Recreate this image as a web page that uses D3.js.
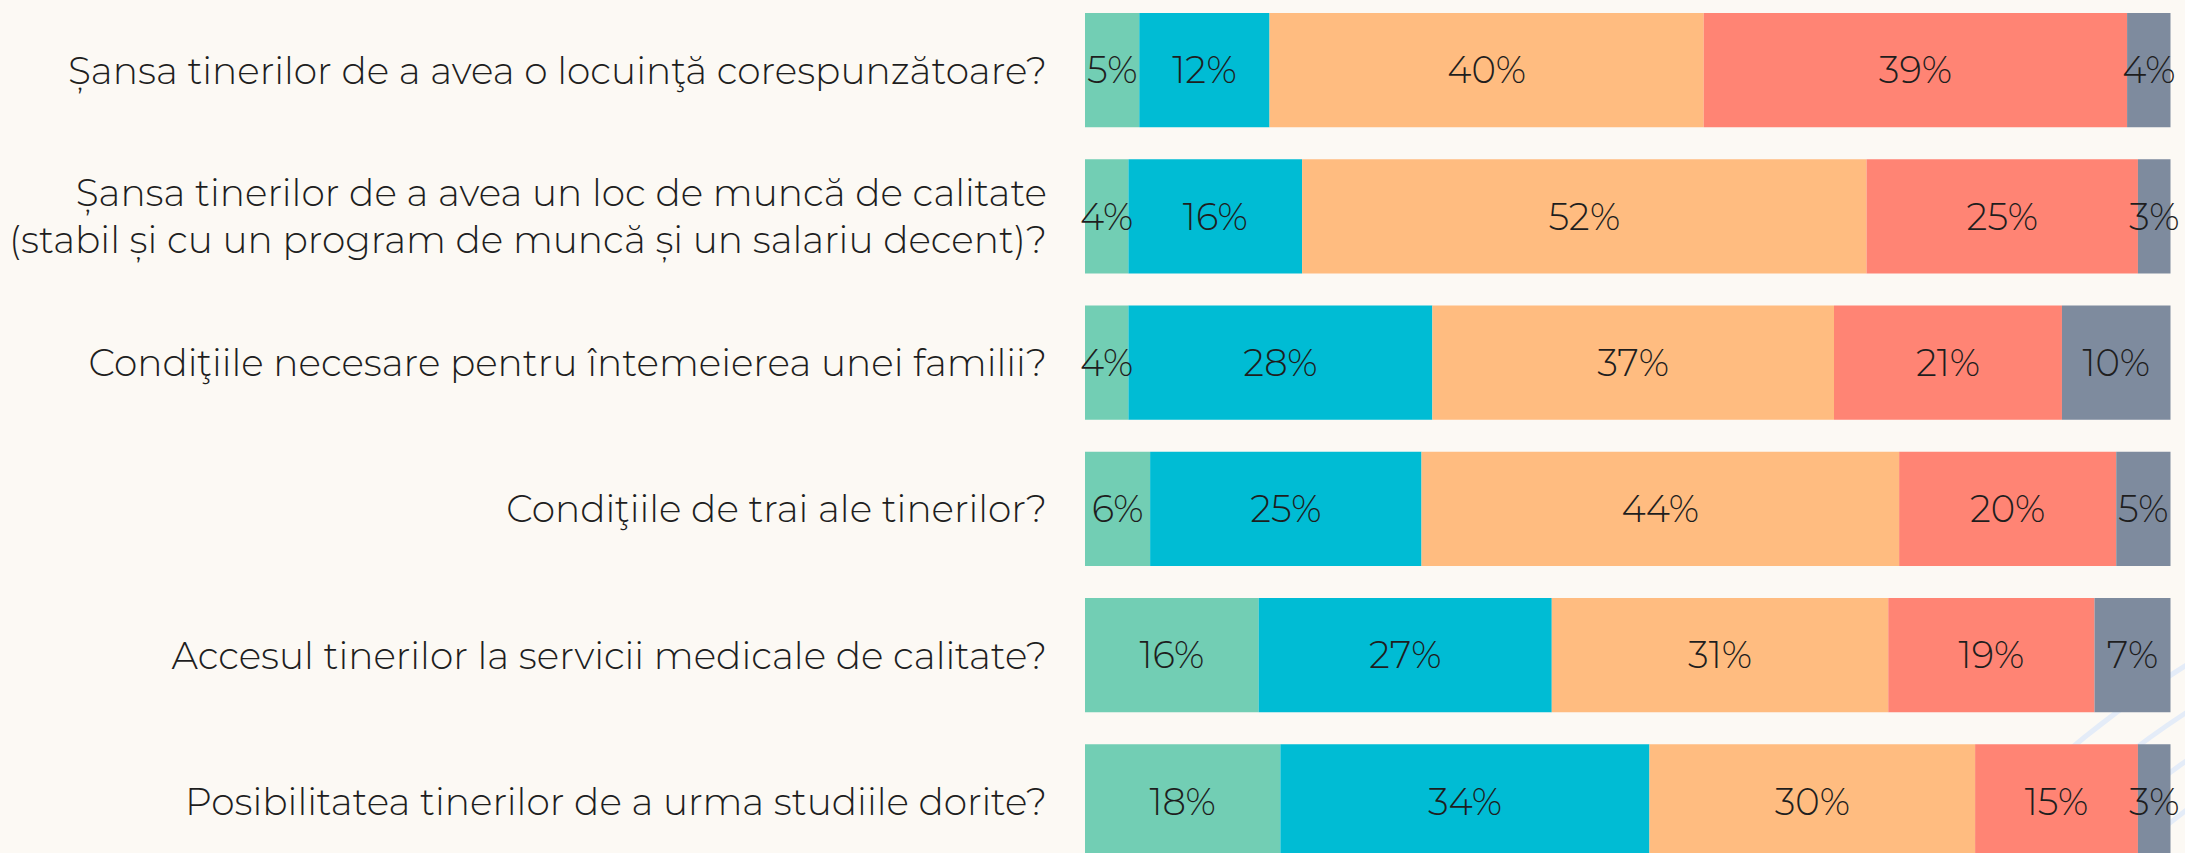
<!DOCTYPE html>
<html>
<head>
<meta charset="utf-8">
<script src="https://cdn.jsdelivr.net/npm/d3@7"></script>
<style>
  html, body { margin: 0; padding: 0; background: #FCF9F4; overflow: hidden; }
  svg { display: block; }
  text { font-family: "Montserrat", "Lato", "Noto Sans", sans-serif; font-weight: 300; fill: #1e1e1e; }
</style>
</head>
<body>
<script>
// ---- data ----
const questions = [
  ["Șansa tinerilor de a avea o locuinţă corespunzătoare?"],
  ["Șansa tinerilor de a avea un loc de muncă de calitate", "(stabil și cu un program de muncă și un salariu decent)?"],
  ["Condiţiile necesare pentru întemeierea unei familii?"],
  ["Condiţiile de trai ale tinerilor?"],
  ["Accesul tinerilor la servicii medicale de calitate?"],
  ["Posibilitatea tinerilor de a urma studiile dorite?"]
];
const seriesNames = ["s1", "s2", "s3", "s4", "s5"];
const s1 = [5, 4, 4, 6, 16, 18];
const s2 = [12, 16, 28, 25, 27, 34];
const s3 = [40, 52, 37, 44, 31, 30];
const s4 = [39, 25, 21, 20, 19, 15];
const s5 = [4, 3, 10, 5, 7, 3];
const colors = ["#72CEB4", "#00BCD4", "#FFBC80", "#FF8474", "#7E8B9E"];

// ---- layout ----
const W = 2185, H = 853;
const svg = d3.select("body").append("svg").attr("width", W).attr("height", H);
svg.append("rect").attr("width", W).attr("height", H).attr("fill", "#FCF9F4");

// faint decorative arcs (background)
const deco = svg.append("g").attr("fill", "none").attr("stroke", "#E4ECF8").attr("stroke-width", 5);
[0, 1, 2, 3, 4].forEach(i => {
  deco.append("circle").attr("cx", 2700).attr("cy", 1500).attr("r", 820 + i * 40);
});

const rows = d3.range(questions.length);
const table = rows.map(i => ({ i, s1: s1[i], s2: s2[i], s3: s3[i], s4: s4[i], s5: s5[i] }));
const stack = d3.stack().keys(seriesNames)(table);

const x = d3.scaleLinear().domain([0, 100]).range([1085, 2170.5]);
const y = d3.scaleBand().domain(rows).range([13, 858.5]).paddingInner(32 / 146.25).paddingOuter(0);

const g = svg.append("g");
stack.forEach((layer, k) => {
  const lg = g.append("g").attr("fill", colors[k]);
  lg.selectAll("rect").data(layer).join("rect")
    .attr("x", d => x(d[0]))
    .attr("y", (d, i) => y(i))
    .attr("width", d => x(d[1]) - x(d[0]))
    .attr("height", y.bandwidth());
});
stack.forEach((layer, k) => {
  g.append("g").selectAll("text").data(layer).join("text")
    .attr("x", d => (x(d[0]) + x(d[1])) / 2)
    .attr("y", (d, i) => y(i) + y.bandwidth() / 2)
    .attr("dy", "0.36em")
    .attr("text-anchor", "middle")
    .attr("font-size", 37)
    .text(d => (d[1] - d[0]) + "%");
});

// category labels
const lineH = 47;
const lab = svg.append("g");
questions.forEach((lines, i) => {
  const cy = y(i) + y.bandwidth() / 2;
  const t = lab.append("text")
    .attr("text-anchor", "end")
    .attr("font-size", 37.5);
  lines.forEach((ln, j) => {
    t.append("tspan")
      .attr("x", 1047)
      .attr("y", cy + (j - (lines.length - 1) / 2) * lineH)
      .attr("dy", "0.36em")
      .text(ln);
  });
});
</script>
</body>
</html>
